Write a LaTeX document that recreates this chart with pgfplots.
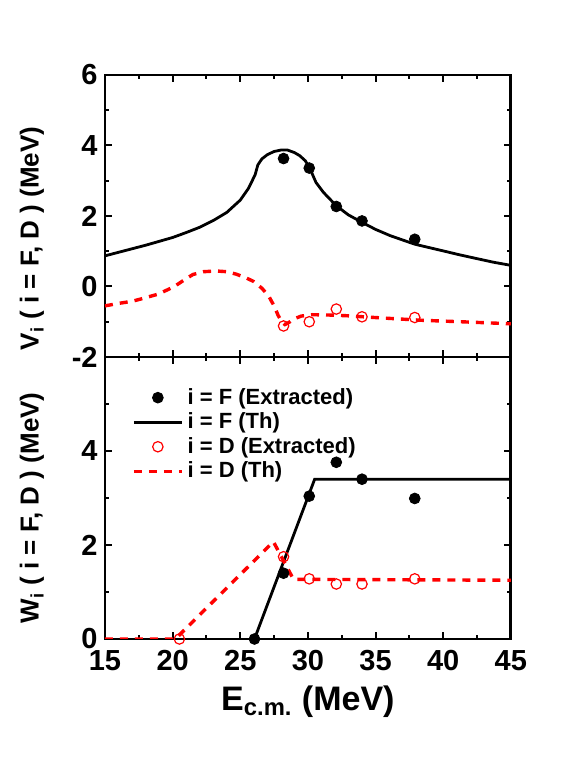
\documentclass[border=0pt]{standalone}
\usepackage{fontspec}
\setmainfont{Liberation Sans}
\usepackage{pgfplots}
\pgfplotsset{compat=1.18}

\begin{document}
\begin{tikzpicture}
\useasboundingbox (-52.5pt,37.5pt) rectangle (238pt,-343pt);
\pgfplotsset{
  every axis/.append style={
    scale only axis, width=202.9pt, height=141pt,
    xmin=15, xmax=45, xtick={15,20,...,45},
    minor xtick={17.5,22.5,...,42.5},
    tick align=inside, major tick length=3.5pt, minor tick length=2pt,
    every tick/.style={line width=1pt, black},
    axis line style={line width=1.3pt},
    tick label style={font=\fontsize{14.5}{14.5}\selectfont\bfseries},
    xticklabel style={yshift=-4.5pt, inner sep=1pt},
    yticklabel style={inner sep=1pt, xshift=-2.5pt},
    /pgf/number format/assume math mode=true,
    label style={font=\fontsize{13}{13}\selectfont\bfseries},
  },
  fth/.style={black, line width=1.4pt, no marks},
  dth/.style={red, line width=1.7pt, dash pattern=on 4pt off 3.5pt, no marks},
  fex/.style={only marks, mark=*, mark size=2.7pt, black},
  dex/.style={only marks, mark=o, mark size=2.6pt, red, mark options={line width=0.6pt}},
}

% upper panel: real part
\begin{axis}[name=top, at={(0,0)}, anchor=north west,
  ymin=-2, ymax=6, ytick={-2,0,...,6}, minor ytick={-1,1,3,5},
  xticklabels={},
  ylabel={V\textsubscript{i} ( i = F, D ) (MeV)},
  ylabel style={at={(axis description cs:-0.18,0.42)}, anchor=center},
]
\addplot[fth] coordinates {
(15,0.87) (16,0.97) (17,1.07) (18,1.17) (19,1.28) (20,1.39) (21,1.53) (22,1.68)
(23,1.87) (24,2.1) (25,2.45) (25.6,2.78) (26.1,3.17) (26.3,3.45) (26.6,3.62)
(27,3.74) (27.5,3.83) (28,3.87) (28.5,3.87) (29,3.8) (29.4,3.71) (29.8,3.57)
(30.1,3.39) (30.35,3.17) (30.6,2.95) (31.15,2.67) (32.1,2.29) (33,2.03) (34,1.82)
(35,1.62) (36.1,1.44) (37,1.32) (37.9,1.2) (39,1.1) (40,1.01) (41.2,0.9)
(42.5,0.79) (43.7,0.69) (45,0.6)};
\addplot[dth] coordinates {
(15,-0.55) (16,-0.48) (17,-0.42) (17.6,-0.36) (18.9,-0.22) (19.7,-0.08)
(20.2,0.02) (21,0.22) (21.5,0.34) (22.3,0.42) (23.2,0.44) (24,0.42) (24.7,0.35)
(25.4,0.25) (26,0.14) (26.6,-0.05) (27.1,-0.27) (27.5,-0.55) (27.8,-0.82)
(28.1,-1.02) (28.3,-1.08) (28.6,-1.02) (28.9,-0.93) (29.5,-0.84) (30.3,-0.8)
(31.6,-0.81) (32.9,-0.83) (34.1,-0.86) (35.8,-0.9) (38.5,-0.96) (41.3,-1.0)
(44.5,-1.05) (45,-1.06)};
\addplot[fex] coordinates {(28.2,3.63) (30.1,3.36) (32.1,2.27) (34.0,1.86) (37.9,1.34)};
\addplot[dex] coordinates {(28.2,-1.12) (30.1,-1.0) (32.1,-0.64) (34.0,-0.86) (37.9,-0.88)};
\end{axis}

% lower panel: imaginary part
\begin{axis}[name=bot, at={(0,-141pt)}, anchor=north west,
  ymin=0, ymax=6, ytick={0,2,4}, minor ytick={1,3,5},
  xlabel={E\textsubscript{c.m.} (MeV)},
  xlabel style={font=\fontsize{17}{17}\selectfont\bfseries, yshift=-3pt},
  ylabel={W\textsubscript{i} ( i = F, D ) (MeV)},
  ylabel style={at={(axis description cs:-0.18,0.465)}, anchor=center},
  legend style={at={(0.066,0.905)}, anchor=north west, draw=none, fill=none,
    font=\fontsize{11}{11}\selectfont\bfseries, row sep=-1.2pt,
    inner sep=0pt},
  legend cell align=left,
  legend image code/.code={\draw[mark repeat=2,mark phase=2,#1] plot coordinates {(0pt,0pt) (12pt,0pt) (24pt,0pt)};},
]
\addplot[fex] coordinates {(26.05,0) (28.2,1.40) (30.1,3.04) (32.1,3.76) (34.0,3.40) (37.9,2.99)};
\addlegendentry{i = F (Extracted)}
\addplot[fth] coordinates {(26.05,0) (30.5,3.4) (45,3.4)};
\addlegendentry{i = F (Th)}
\addplot[dex] coordinates {(20.5,0) (28.2,1.75) (30.1,1.28) (32.1,1.17) (34.0,1.17) (37.9,1.28)};
\addlegendentry{i = D (Extracted)}
\addplot[dth] coordinates {(15,0) (20.2,0) (27.45,2.07) (28.93,1.27) (45,1.25)};
\addlegendentry{i = D (Th)}
\end{axis}
\end{tikzpicture}
\end{document}
